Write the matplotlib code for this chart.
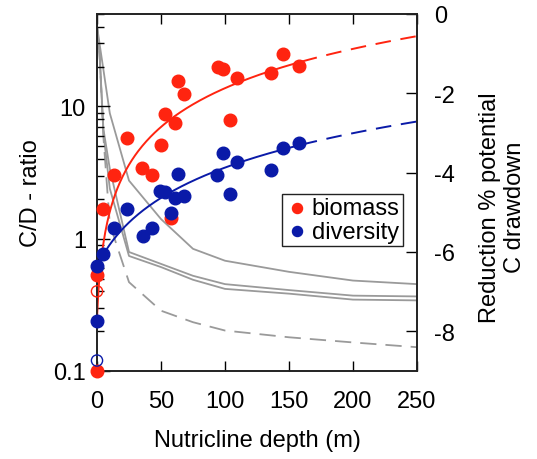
import matplotlib
matplotlib.use("Agg")
import matplotlib.pyplot as plt
import numpy as np

plt.rcParams['font.family'] = ['Liberation Sans', 'DejaVu Sans']
plt.rcParams['font.size'] = 17
plt.rcParams['axes.unicode_minus'] = False

# C/D ratio points (nutricline depth in m, ratio)
bio_x = [0, 0, 4.5, 13.3, 23.7, 35.4, 42.7, 49.8, 52.9, 57.6, 60.9, 63.5, 68.0,
         94.8, 98.7, 103.9, 109.1, 135.7, 145.5, 157.6]
bio_y = [0.1, 0.53, 1.69, 3.05, 5.8, 3.42, 3.02, 5.09, 8.7, 1.43, 7.56, 15.5, 12.5,
         20.0, 19.2, 7.87, 16.3, 17.9, 24.9, 20.3]
div_x = [0, 0, 4.5, 13.3, 23.7, 35.7, 42.7, 49.2, 53.1, 57.6, 60.9, 63.5, 68.0,
         93.8, 98.2, 103.9, 109.1, 135.7, 145.5, 157.6]
div_y = [0.24, 0.62, 0.77, 1.2, 1.69, 1.04, 1.2, 2.28, 2.26, 1.57, 2.03, 3.11, 2.11,
         3.05, 4.46, 2.19, 3.77, 3.29, 4.81, 5.25]
bio_open = (0, 0.40)
div_open = (0, 0.12)

# linear fits (drawn on log axis)
bio_fit = (0.25, 0.135)
div_fit = (0.62, 0.0283)
fit_end = 160

# reduction of potential C drawdown (right axis)
red_x = [0, 2, 5, 10, 25, 50, 75, 100, 150, 200, 250]
red_a = [-0.3, -0.75, -1.4, -2.5, -4.2, -5.17, -5.92, -6.22, -6.50, -6.72, -6.81]
red_b = [-0.3, -1.0, -2.9, -3.9, -6.0, -6.30, -6.60, -6.81, -6.96, -7.10, -7.12]
red_c = [-0.3, -1.0, -3.0, -4.4, -6.1, -6.38, -6.70, -6.93, -7.05, -7.20, -7.22]
red_d = [-0.3, -1.0, -3.1, -5.3, -6.76, -7.48, -7.77, -7.98, -8.15, -8.28, -8.40]

RED = '#ff2410'
BLUE = '#0a1aa8'
GRAY = '#9a9a9a'

fig = plt.figure(figsize=(5.37, 4.60), dpi=100)
ax = fig.add_axes([97/537, 1 - 372/460, 320/537, 357/460])
ax2 = ax.twinx()

# gray curves behind the points
ax.set_zorder(ax2.get_zorder() + 1)
ax.patch.set_visible(False)
for yy in (red_a, red_b, red_c):
    ax2.plot(red_x, yy, color=GRAY, lw=1.3)
ax2.plot(red_x, red_d, color=GRAY, lw=1.3, dashes=(9, 5))
ax2.set_ylim(-9, 0)
ax2.set_yticks([0, -2, -4, -6, -8])
ax2.tick_params(direction='in', length=8, width=1, pad=12)
ax2.set_ylabel('Reduction % potential\nC drawdown', linespacing=1.15)
ax2.yaxis.set_label_coords(1.195, 0.46)

# fits
xs = np.linspace(0, fit_end, 200)
xd = np.linspace(fit_end, 250, 100)
ax.plot(xs, bio_fit[0] + bio_fit[1] * xs, color=RED, lw=1.4)
ax.plot(xd, bio_fit[0] + bio_fit[1] * xd, color=RED, lw=1.4, dashes=(8, 5))
ax.plot(xs, div_fit[0] + div_fit[1] * xs, color=BLUE, lw=1.4)
ax.plot(xd, div_fit[0] + div_fit[1] * xd, color=BLUE, lw=1.4, dashes=(8, 5))

ax.scatter(bio_x, bio_y, s=82, color=RED, zorder=5, clip_on=False, label='biomass')
ax.scatter(div_x, div_y, s=82, color=BLUE, zorder=6, clip_on=False, label='diversity')
ax.scatter([bio_open[0]], [bio_open[1]], s=65, facecolors='none', edgecolors=RED,
           linewidths=1, zorder=7, clip_on=False)
ax.scatter([div_open[0]], [div_open[1]], s=65, facecolors='none', edgecolors=BLUE,
           linewidths=1, zorder=7, clip_on=False)

ax.set_yscale('log')
ax.set_xlim(0, 250)
ax.set_ylim(0.1, 50)
ax.set_xticks([0, 50, 100, 150, 200, 250])
ax.set_yticks([0.1, 1, 10])
ax.set_yticklabels(['0.1', '1', '10'])
ax.tick_params(axis='x', which='both', direction='in', top=True, length=7, width=1, pad=14)
ax.tick_params(axis='y', which='major', direction='in', length=9, width=1, pad=8)
ax.tick_params(axis='y', which='minor', direction='in', length=5, width=1)
ax.set_xlabel('Nutricline depth (m)', labelpad=12)
ax.set_ylabel('C/D - ratio', labelpad=8)

for a in (ax, ax2):
    for s in a.spines.values():
        s.set_linewidth(1.2)
        s.set_color('#222222')

leg = ax.legend(loc='upper right', bbox_to_anchor=(0.956, 0.496), borderaxespad=0,
                handletextpad=0.1, handlelength=1.0, borderpad=0.15, labelspacing=0.05,
                fancybox=False, edgecolor='#222222', framealpha=1, markerscale=0.8)
leg.get_frame().set_linewidth(1.0)

fig.savefig('out.png', dpi=100)
